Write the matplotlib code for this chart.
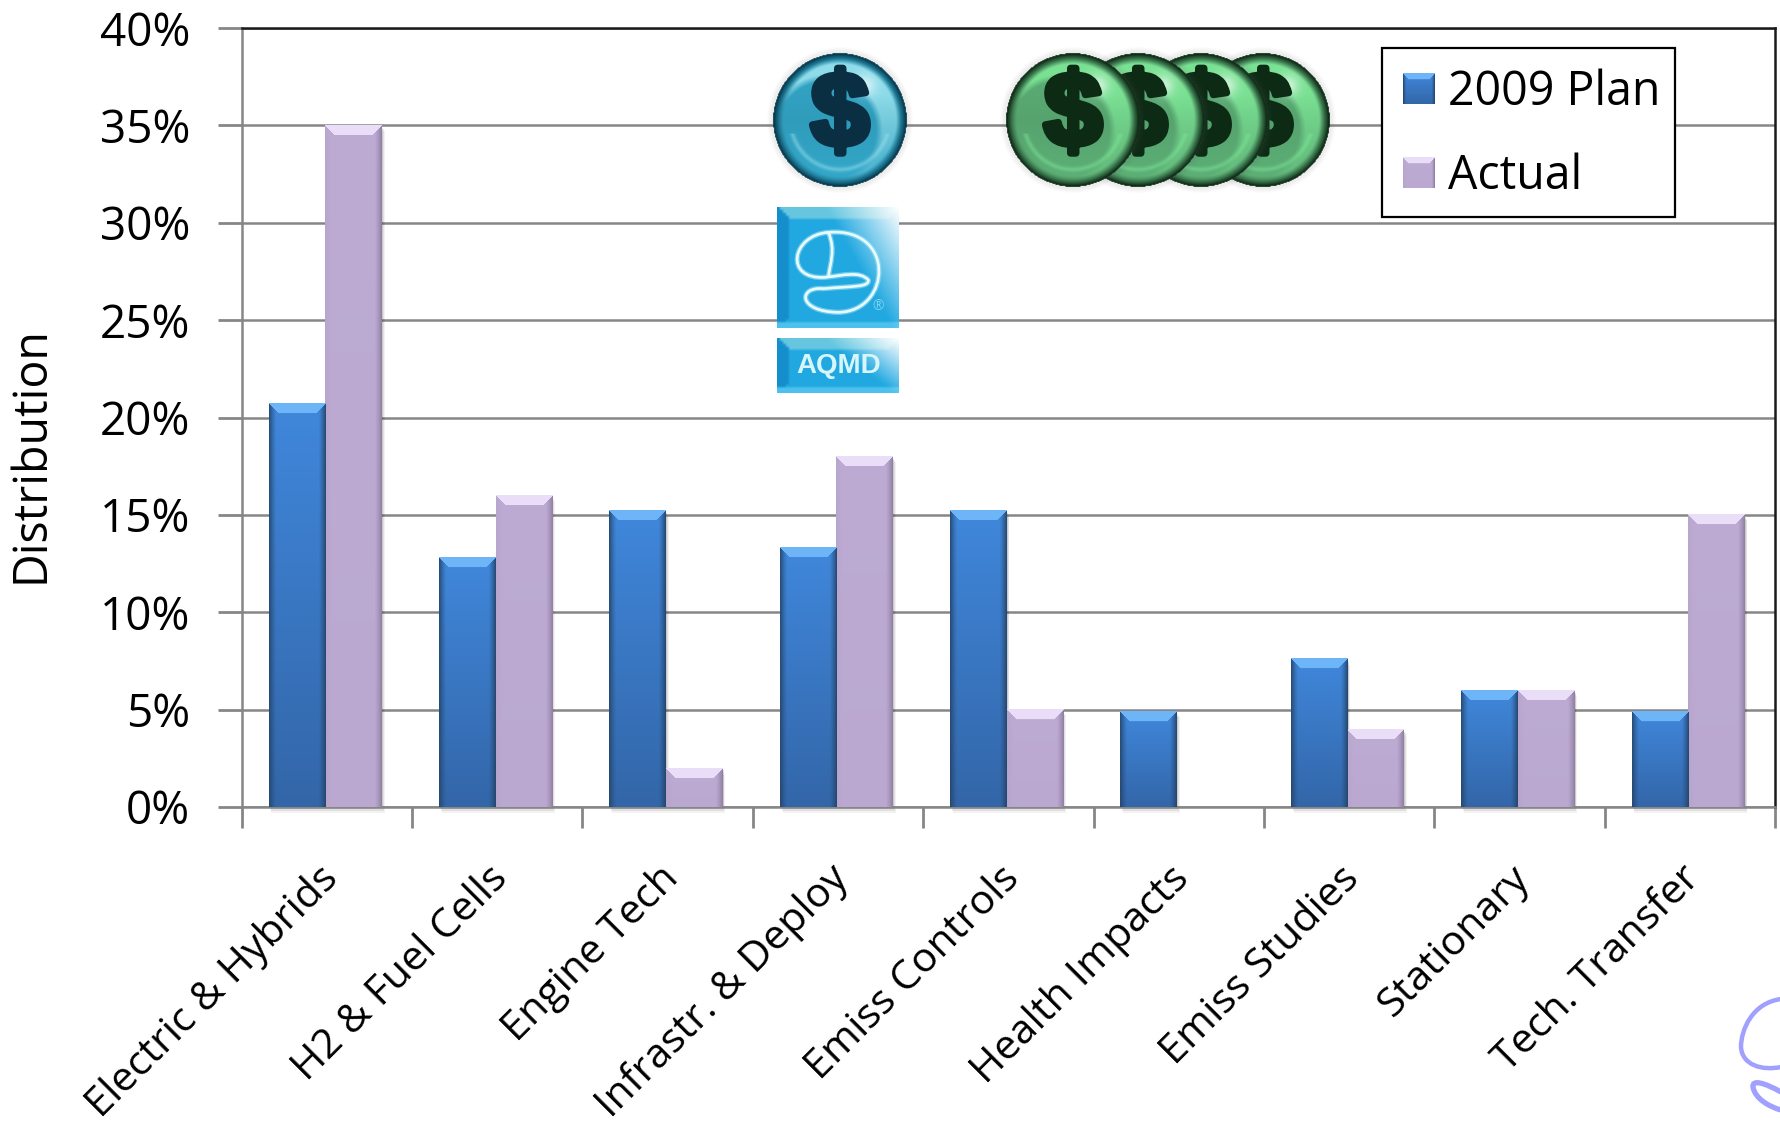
import numpy as np
import matplotlib
matplotlib.use("Agg")
import matplotlib.pyplot as plt
import matplotlib.patheffects as pe
from matplotlib.patches import Patch, Rectangle, PathPatch
from matplotlib.path import Path
from matplotlib.ticker import FuncFormatter
from matplotlib.transforms import ScaledTranslation

categories = ["Electric & Hybrids", "H2 & Fuel Cells", "Engine Tech", "Infrastr. & Deploy",
              "Emiss Controls", "Health Impacts", "Emiss Studies", "Stationary", "Tech. Transfer"]
plan = [20.7, 12.8, 15.2, 13.3, 15.2, 4.9, 7.6, 6.0, 4.9]
actual = [35, 16, 2, 18, 5, 0, 4, 6, 15]
series_names = ["2009 Plan", "Actual"]
y_ticks = [0, 5, 10, 15, 20, 25, 30, 35, 40]

W, H = 1781, 1127
FONT = ["Open Sans", "DejaVu Sans"]
plt.rcParams["font.family"] = FONT
GRAY = "#868686"
fig = plt.figure(figsize=(W / 100, H / 100), dpi=100, facecolor="white")
L, R, T, B = 241.7, 1775, 28, 807
ax = fig.add_axes([L / W, 1 - B / H, (R - L) / W, (B - T) / H])

x = np.arange(len(categories))
bw = 0.332
shift = -0.01
PAL = {
    "plan": dict(top=(0.25, 0.53, 0.86), bot=(0.20, 0.40, 0.66), cap=(0.43, 0.71, 0.97),
                 edge=(0.14, 0.27, 0.42), left=0.85),
    "actual": dict(top=(0.74, 0.67, 0.83), bot=(0.73, 0.66, 0.82), cap=(0.92, 0.87, 0.97),
                   edge=(0.56, 0.49, 0.63), left=0.1),
}


def bevel_array(wp, hp, p, cap=10, side=7):
    wp, hp = max(int(round(wp)), 2), max(int(round(hp)), 2)
    yy, xx = np.mgrid[0:hp, 0:wp]
    t = (yy / max(hp - 1, 1))[..., None]
    img = np.array(p["top"]) * (1 - t) + np.array(p["bot"]) * t
    kl = np.clip(1 - xx / side, 0, 1)[..., None] ** 1.3 * p["left"]
    kr = np.clip(1 - (wp - 1 - xx) / side, 0, 1)[..., None] ** 1.3 * 0.9
    k = np.maximum(kl, kr)
    img = img * (1 - k) + np.array(p["edge"]) * k
    cap = min(cap, hp // 2 + 1)
    mask = (yy < cap) & (xx >= yy * 0.9) & (wp - 1 - xx >= yy * 0.9)
    img[mask] = p["cap"]
    return img


def draw_bars(bars, p):
    for r in bars:
        x0, w, h = r.get_x(), r.get_width(), r.get_height()
        if h <= 0:
            continue
        wp = w * (R - L) / 9
        hp = h * (B - T) / 40
        for off, a in ((7, 0.05), (5, 0.07), (3, 0.10)):
            ax.add_patch(Rectangle((x0 + off * 9 / (R - L) * 0.4, -off * 40 / (B - T) * 0.8), w, h,
                                   facecolor="black", alpha=a, linewidth=0, zorder=2.5, clip_on=False))
        ax.imshow(bevel_array(wp, hp, p), extent=(x0, x0 + w, 0, h), origin="upper",
                  aspect="auto", interpolation="bilinear", zorder=3.6)


b1 = ax.bar(x - bw / 2 + shift, plan, bw, color="#3a74bd", zorder=3, label=series_names[0])
b2 = ax.bar(x + bw / 2 + shift, actual, bw, color="#bcaad3", zorder=3, label=series_names[1])
draw_bars(b2, PAL["actual"])
draw_bars(b1, PAL["plan"])

ax.set_xlim(-0.5, 8.5)
ax.set_ylim(0, 40)
ax.set_yticks(y_ticks)
ax.yaxis.set_major_formatter(FuncFormatter(lambda v, _: f"{v:.0f}%"))
ax.set_xticks(np.arange(-0.5, 8.6, 1))
ax.set_xticklabels([])
ax.set_xticks(x, minor=True)
ax.set_xticklabels(categories, minor=True, rotation=45, ha="right", va="top",
                   rotation_mode="anchor", fontsize=29.7)
ax.tick_params(axis="x", which="minor", length=0, pad=37)
ax.tick_params(axis="x", which="major", length=15, width=2, color=GRAY)
ax.tick_params(axis="y", length=17, width=2, color=GRAY, labelsize=33, pad=20)
for lab in ax.get_xticklabels(minor=True):
    lab.set_transform(lab.get_transform() + ScaledTranslation(-0.095, 0, fig.dpi_scale_trans))
ax.grid(axis="y", color=GRAY, linewidth=1.8, zorder=1)
ax.set_axisbelow(True)
ax.spines["left"].set_color(GRAY)
ax.spines["bottom"].set_color(GRAY)
ax.spines["top"].set_color("#1a1a1a")
ax.spines["right"].set_color("#1a1a1a")
for s in ("left", "bottom", "top", "right"):
    ax.spines[s].set_linewidth(1.8)
fig.text(31 / W, 1 - 454.5 / H, "Distribution", rotation=90, ha="center", va="center", fontsize=33.5)

# Overlay in pixel coordinates for legend frame and pictorial decorations
ov = fig.add_axes([0, 0, 1, 1], facecolor="none")
ov.set_xlim(0, W)
ov.set_ylim(H, 0)
ov.axis("off")

ov.add_patch(Rectangle((1382, 47.5), 293, 169.5, facecolor="white", edgecolor="black", lw=1.6, zorder=4))
handles = [Patch(facecolor="#3a74bd", label=series_names[0]), Patch(facecolor="#bcaad3", label=series_names[1])]
leg = ov.legend(handles=handles, loc="upper left", bbox_to_anchor=(1403 / W, 1 - 68.5 / H),
                bbox_transform=fig.transFigure, frameon=False, fontsize=33.5, handlelength=0.68,
                handleheight=0.62, handletextpad=0.29, labelspacing=0.79, borderpad=0, borderaxespad=0)
leg.set_zorder(10)


def coin(cx, cy, r, body, light, dark, ink, z):
    s = int(r * 2.5)
    g = np.linspace(-1.25, 1.25, s)
    xx, yy = np.meshgrid(g, g)
    rr = np.hypot(xx, yy)
    body, light, dark = map(np.array, (body, light, dark))
    img = np.ones((s, s, 4))
    v = np.clip((yy + 1) / 2, 0, 1)[..., None]
    img[..., :3] = body * (0.94 + 0.16 * np.abs(v - 0.5))
    # crescent glare on the upper right
    cres = np.clip((np.hypot(xx + 0.20, yy - 0.16) - 0.74) / 0.10, 0, 1) * np.clip((0.92 - rr) / 0.08, 0, 1)
    cres = (cres * (0.35 + 0.65 * np.clip(0.6 - yy, 0, 1)))[..., None]
    img[..., :3] = img[..., :3] * (1 - 0.85 * cres) + light * 0.85 * cres
    # pale spot and lower inner arc
    sp = np.exp(-((xx - 0.38) ** 2 + (yy + 0.52) ** 2) / 0.025)[..., None]
    img[..., :3] = img[..., :3] * (1 - 0.6 * sp) + 0.6 * sp
    arc = (np.exp(-(((rr - 0.74) / 0.035) ** 2)) * (yy > 0.2))[..., None]
    img[..., :3] = img[..., :3] * (1 - 0.45 * arc) + light * 0.45 * arc
    # thick dark soft rim
    t = np.clip((rr - 0.84) / 0.14, 0, 1)[..., None] ** 1.4
    img[..., :3] = img[..., :3] * (1 - t) + dark * t
    outer = rr >= 1.0
    img[outer, :3] = (0.35, 0.35, 0.35)
    img[..., 3] = np.where(outer, 0.14 * np.clip((1.10 - rr) / 0.10, 0, 1), 1.0)
    ov.imshow(img, extent=(cx - 1.25 * r, cx + 1.25 * r, cy + 1.25 * r, cy - 1.25 * r),
              interpolation="bilinear", aspect="auto", zorder=z)
    ov.text(cx, cy - 1, "$", color=ink, fontsize=r * 1.12, fontweight="bold", family="Liberation Sans",
            ha="center", va="center", zorder=z + 0.1,
            path_effects=[pe.withStroke(linewidth=5, foreground=ink)])


coin(840, 120, 67, (0.20, 0.65, 0.78), (0.62, 0.90, 0.94), (0.02, 0.24, 0.32), "#0a2f42", 5)
for i, cx in enumerate((1263, 1201, 1138, 1073)):
    coin(cx, 120, 67, (0.36, 0.68, 0.46), (0.50, 0.92, 0.60), (0.06, 0.18, 0.09), "#0c2a14", 5 + i)


def logo_panel(x0, x1, y0, y1):
    hp, wp = int(y1 - y0), int(x1 - x0)
    yy, xx = np.mgrid[0:hp, 0:wp]
    img = np.ones((hp, wp, 3)) * np.array([0.13, 0.66, 0.88])
    top = (yy < 10) & (xx >= yy) & (wp - 1 - xx >= yy)
    img[top] = (0.40, 0.78, 0.88)
    left = (xx < 10) & (yy >= xx) & (hp - 1 - yy >= xx)
    img[left] = (0.08, 0.56, 0.80)
    low = (hp - 1 - yy < 6)
    img[low] = (0.30, 0.76, 0.93)
    d = np.clip((xx / wp) + (1 - yy / hp) * 0.55 - 0.95, 0, 1)[..., None] / 0.6
    d = np.clip(d, 0, 1)
    img = img * (1 - d) + d
    ov.imshow(img[::3, ::3], extent=(x0, x1, y1, y0), aspect="auto", interpolation="bilinear", zorder=5)


logo_panel(777, 899, 207, 328)
logo_panel(777, 899, 338, 393)
M, C4 = Path.MOVETO, Path.CURVE4


def zp(pts):
    return [(760 + a / 3, 200 + b / 3) for a, b in pts]


v1 = zp([(205, 97), (95, 105), (70, 240), (195, 232), (250, 226), (300, 212), (325, 240),
         (328, 262), (280, 258), (190, 266), (115, 258), (110, 335), (235, 337),
         (395, 335), (410, 80), (205, 97)])
c1 = [M] + [C4] * 15
v2 = zp([(205, 97), (228, 150), (210, 190), (205, 232)])
c2 = [M] + [C4] * 3
for vv, cc in ((v1, c1), (v2, c2)):
    ov.add_patch(PathPatch(Path(vv, cc), facecolor="none", edgecolor="#9be4f5", lw=3.8, alpha=0.6, zorder=6))
    ov.add_patch(PathPatch(Path(vv, cc), facecolor="none", edgecolor="#eafbff", lw=1.9, zorder=6.1))
ov.text(878, 307, "®", color="#7fd4ef", fontsize=10, ha="center", va="center", zorder=6.1)
ov.text(839, 366, "AQMD", color="#d8f5fb", fontsize=20, fontweight="bold", family="Liberation Sans",
        ha="center", va="center", zorder=6)

# Corner squiggle
sq = "#a0a0ff"
v = [(1781, 999), (1752, 1003), (1741, 1030), (1741, 1047), (1742, 1065), (1762, 1071), (1781, 1067)]
ov.add_patch(PathPatch(Path(v, [M] + [C4] * 6), facecolor="none", edgecolor=sq, lw=3.2, capstyle="butt", zorder=6))
v = [(1781, 1092), (1765, 1083), (1752, 1079), (1753, 1087), (1755, 1099), (1770, 1107), (1781, 1110)]
ov.add_patch(PathPatch(Path(v, [M] + [C4] * 6), facecolor="none", edgecolor=sq, lw=3.8, capstyle="butt", zorder=6))

# Bevelled legend keys over the real legend handles
fig.canvas.draw()
for h, key in zip(leg.legend_handles, ("plan", "actual")):
    bb = h.get_window_extent()
    x0, x1 = bb.x0, bb.x1
    y0, y1 = H - bb.y1, H - bb.y0
    ov.imshow(bevel_array(x1 - x0, y1 - y0, PAL[key], cap=6, side=3), extent=(x0, x1, y1, y0),
              aspect="auto", interpolation="bilinear", zorder=11)
ov.set_xlim(0, W)
ov.set_ylim(H, 0)

fig.savefig("out.png", dpi=100, facecolor="white")
